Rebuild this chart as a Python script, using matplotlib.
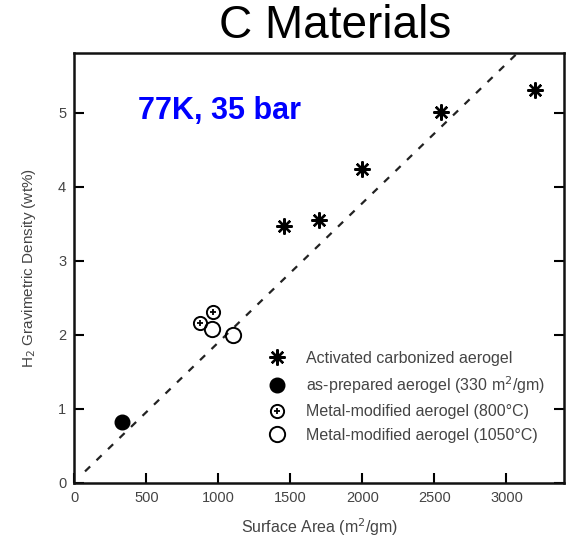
import matplotlib
matplotlib.use("Agg")
import matplotlib.pyplot as plt
from matplotlib.legend_handler import HandlerTuple

plt.rcParams["font.family"] = ["Liberation Sans", "DejaVu Sans"]

# data
act_x = [1457, 1698, 2000, 2543, 3198]      # activated carbonized aerogel
act_y = [3.46, 3.55, 4.24, 5.01, 5.31]
prep_x = [328]                               # as-prepared aerogel
prep_y = [0.82]
m800_x = [872, 964]                          # metal-modified 800C
m800_y = [2.15, 2.30]
m1050_x = [953, 1100]                        # metal-modified 1050C
m1050_y = [2.07, 1.99]
trend_x = [73, 3075]                         # dashed guide line
trend_y = [0.15, 5.8]

xticks = [0, 500, 1000, 1500, 2000, 2500, 3000]
yticks = [0, 1, 2, 3, 4, 5]

fig = plt.figure(figsize=(5.7, 5.39), dpi=100)
ax = fig.add_axes([0.1307, 0.1048, 0.8588, 0.7963])

ax.plot(trend_x, trend_y, color="#222222", lw=1.6, dashes=(3.2, 4.0), zorder=1)

h_act, = ax.plot(act_x, act_y, ls="none", marker=(8, 2, 0), ms=11.5, mew=1.7,
                 color="black", zorder=3)
h_prep, = ax.plot(prep_x, prep_y, ls="none", marker="o", ms=10.5,
                  color="black", zorder=3)
h_m800a, = ax.plot(m800_x, m800_y, ls="none", marker="o", ms=9.5, mew=1.4,
                   mfc="none", mec="black", zorder=3)
h_m800b, = ax.plot(m800_x, m800_y, ls="none", marker="+", ms=4.5, mew=1.3,
                   color="black", zorder=3)
h_m1050, = ax.plot(m1050_x, m1050_y, ls="none", marker="o", ms=11, mew=1.4,
                   mfc="none", mec="black", zorder=3)

ax.set_xlim(0, 3400)
ax.set_ylim(0, 5.8)
ax.set_xticks(xticks)
ax.set_yticks(yticks)
ax.tick_params(direction="in", length=7, width=1.5, labelsize=10.5,
               labelcolor="#444444", pad=6, right=True)
for s in ax.spines.values():
    s.set_linewidth(1.8)
    s.set_color("#111111")

ax.set_xlabel("Surface Area (m$^2$/gm)", fontsize=11.5, color="#444444", labelpad=8)
ax.set_ylabel("H$_2$ Gravimetric Density (wt%)", fontsize=11, color="#444444",
              labelpad=14)

ax.text(0.13, 0.847, "77K, 35 bar", transform=ax.transAxes, color="blue",
        fontsize=22, fontweight="bold", va="baseline", ha="left")

fig.text(0.588, 0.9295, "C Materials", fontsize=33, ha="center", va="baseline")

leg = ax.legend([h_act, h_prep, (h_m800a, h_m800b), h_m1050],
                ["Activated carbonized aerogel",
                 "as-prepared aerogel (330 m$^2$/gm)",
                 "Metal-modified aerogel (800\u00b0C)",
                 "Metal-modified aerogel (1050\u00b0C)"],
                handler_map={tuple: HandlerTuple(ndivide=1, pad=0)},
                loc="upper left", bbox_to_anchor=(269 / 570, 1 - 351 / 539),
                bbox_transform=fig.transFigure, frameon=False, fontsize=11.5,
                handlelength=1.0, handletextpad=1.3, labelspacing=0.52,
                borderpad=0, borderaxespad=0, markerscale=1.0)
for t in leg.get_texts():
    t.set_color("#444444")

fig.savefig("out.png", dpi=100)
